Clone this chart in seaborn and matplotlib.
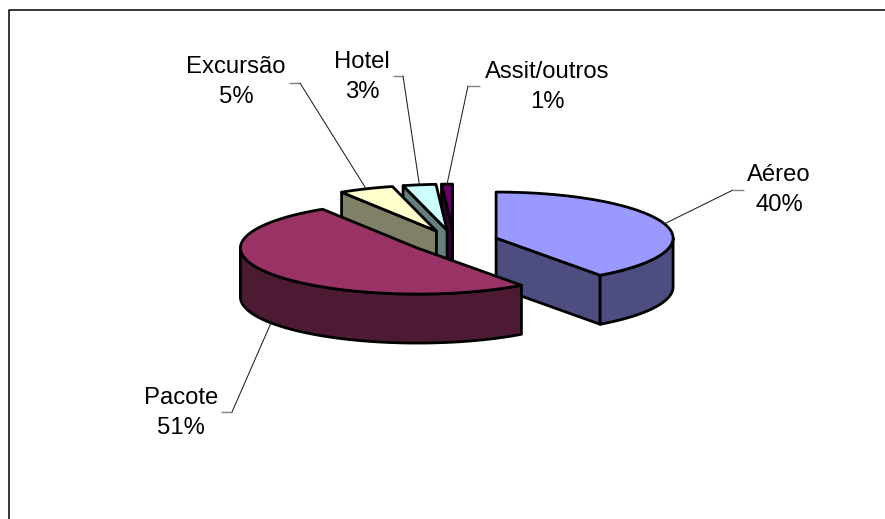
import numpy as np
import matplotlib
matplotlib.use("Agg")
import matplotlib.pyplot as plt
import seaborn as sns

# Sales share by product
categories = ["Aéreo", "Pacote", "Excursão", "Hotel", "Assit/outros"]
shares = [40, 51, 5, 3, 1]
top_colors = ["#9999FF", "#993366", "#FFFFCC", "#CCFFFF", "#660066"]
side_colors = ["#4D4D80", "#4D1A33", "#808066", "#668080", "#330033"]

# Label centres and leader-line elbows, in pixels
label_xy = [(779, 190), (181, 413), (236, 82), (362, 77), (547, 87)]
elbows = [[(744, 190), (733, 190)], [(221, 412), (232, 412)],
          [(289, 83), (300, 83)], [(393, 76), (403, 76)], [(480, 86), (468, 86)]]

# Projection of the tilted pie
CX, CY = 454.0, 241.6
RX, RY = 177.0, 46.0
DEPTH = 49.0
EXPLODE = 0.25
EDGE = 2.0

sns.set_theme(style="white", rc={"font.family": ["Liberation Sans", "DejaVu Sans"]})
top_pal = sns.color_palette(top_colors)
side_pal = sns.color_palette(side_colors)

fig, ax = plt.subplots(figsize=(8.85, 5.19), dpi=100)
ax.set_position([0, 0, 1, 1])
ax.set_xlim(0, 885)
ax.set_ylim(519, 0)
ax.axis("off")

# Chart frame: only the top and left edges fall inside the canvas
ax.plot([8.5, 8.5, 885], [519, 9.5, 9.5], color="black", lw=1.1, solid_capstyle="butt", zorder=0)


def rim(center, t):
    t = np.asarray(t)
    return center[0] + RX * np.sin(t), center[1] - RY * np.cos(t)


def fill(xs, ys, color, z):
    ax.fill(xs, ys, facecolor=color, edgecolor="black", lw=EDGE, joinstyle="round", zorder=z)


fractions = np.array(shares) / sum(shares)
ends = np.cumsum(fractions) * 2 * np.pi
starts = ends - fractions * 2 * np.pi
mids = (starts + ends) / 2
centers = [(CX + EXPLODE * RX * np.sin(m), CY - EXPLODE * RY * np.cos(m)) for m in mids]

# Slices further from the viewer are painted first
order = np.argsort([c[1] for c in centers])
for rank, i in enumerate(order):
    z = 2 + rank * 5
    c, a, b = centers[i], starts[i], ends[i]
    side, top = side_pal[i], top_pal[i]

    # Cut faces: only the ones turned towards the viewer show
    for t, visible in ((a, np.sin(a) < 0), (b, np.sin(b) > 0)):
        if visible:
            px, py = rim(c, t)
            fill([c[0], px, px, c[0]], [c[1], py, py + DEPTH, c[1] + DEPTH], side, z)

    # Outer wall along the front half of the rim
    lo, hi = max(a, np.pi / 2), min(b, 3 * np.pi / 2)
    if hi > lo:
        t = np.linspace(lo, hi, 120)
        x, y = rim(c, t)
        fill(np.r_[x, x[::-1]], np.r_[y, y[::-1] + DEPTH], side, z + 1)

    # Top face
    t = np.linspace(a, b, 200)
    x, y = rim(c, t)
    fill(np.r_[c[0], x], np.r_[c[1], y], top, z + 2)

# Leader lines start on the rim at each slice's middle angle
for i, name in enumerate(categories):
    x0, y0 = rim(centers[i], mids[i])
    if np.cos(mids[i]) < 0:
        y0 += DEPTH
    (x1, y1), (x2, y2) = elbows[i]
    ax.plot([x1, x2], [y1, y2], color="#808080", lw=1.0, solid_capstyle="butt", zorder=50)
    ax.plot([x2, x0], [y2, y0], color="#202020", lw=0.75, zorder=50)
    ax.text(*label_xy[i], f"{name}\n{shares[i]}%", ha="center", va="center",
            fontsize=17.2, color="black", linespacing=1.47, zorder=60)

fig.savefig("out.png", dpi=100, facecolor="white")
